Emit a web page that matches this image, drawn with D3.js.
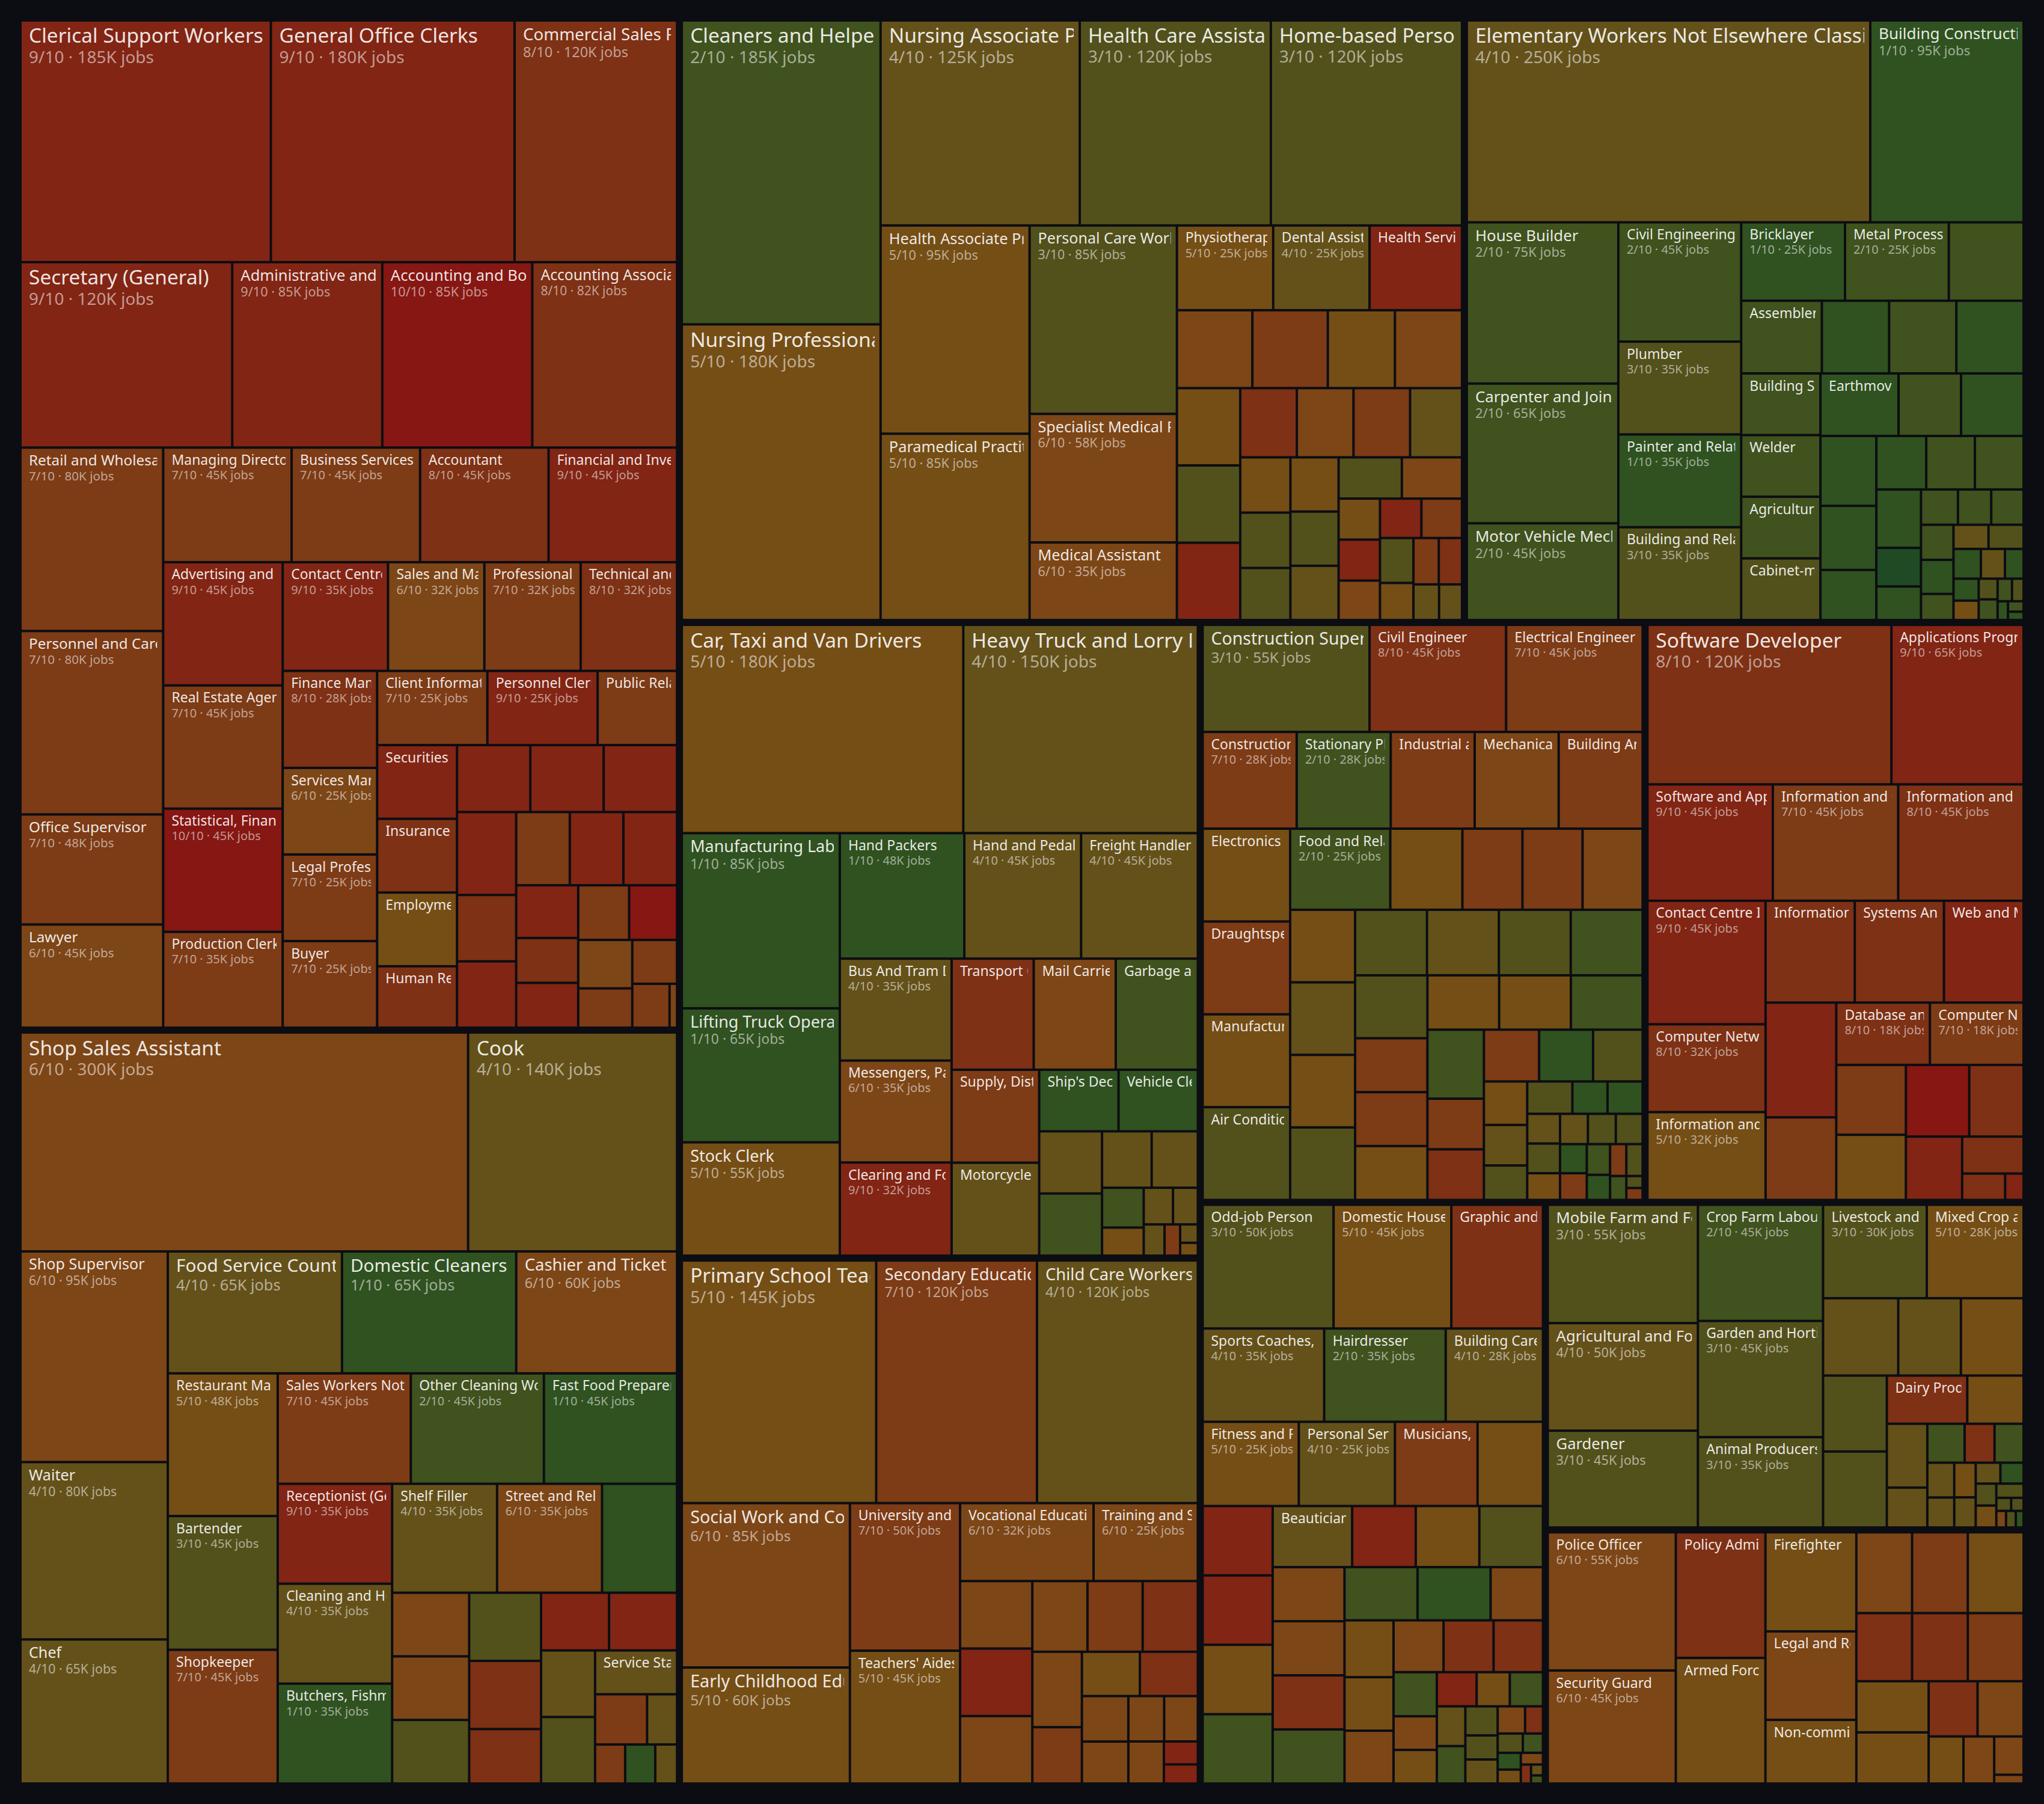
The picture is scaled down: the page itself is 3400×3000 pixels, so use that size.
<!DOCTYPE html>
<html>
  <head>
    <meta charset="utf-8">
    <title>Occupations treemap</title>
    <script type="text/javascript" src="https://cdn.jsdelivr.net/npm/d3@7"></script>
    <style>
      body { margin: 0; background: #0c0d12; }
      text { font-family: "Noto Sans", "Open Sans", sans-serif; }
    </style>
  </head>
  <body>
    <script type="text/javascript">
      var w = 3400
      var h = 3000

      // [occupation, score out of 10, jobs in thousands]
      var office = [
        ["Clerical Support Workers", 9, 185], ["General Office Clerks", 9, 180],
        ["Commercial Sales Representatives", 8, 120], ["Secretary (General)", 9, 120],
        ["Administrative and Executive Secretaries", 9, 85], ["Accounting and Bookkeeping Clerks", 10, 85],
        ["Accounting Associate Professionals", 8, 82], ["Retail and Wholesale Trade Managers", 7, 80],
        ["Personnel and Careers Professionals", 7, 80], ["Office Supervisor", 7, 48],
        ["Lawyer", 6, 45], ["Managing Directors and Chief Executives", 7, 45],
        ["Business Services Agents", 7, 45], ["Accountant", 8, 45],
        ["Financial and Investment Advisers", 9, 45], ["Advertising and Marketing Professionals", 9, 45],
        ["Real Estate Agents and Property Managers", 7, 45], ["Statistical, Finance and Insurance Clerks", 10, 45],
        ["Production Clerks", 7, 35], ["Contact Centre Salespersons", 9, 35],
        ["Sales and Marketing Managers", 6, 32], ["Professional Services Managers", 7, 32],
        ["Technical and Medical Sales Professionals", 8, 32], ["Finance Managers", 8, 28],
        ["Services Managers Not Elsewhere Classified", 6, 25], ["Legal Professionals Not Elsewhere Classified", 7, 25],
        ["Buyer", 7, 25], ["Client Information Workers", 7, 25], ["Personnel Clerks", 9, 25],
        ["Public Relations Professionals", 7, 18], ["Securities and Finance Dealers", 9, 18],
        ["Insurance Representatives", 8, 18], ["Employment Agents and Contractors", 5, 18],
        ["Human Resource Managers", 8, 15], ["Bank Tellers", 9, 15], ["Debt Collectors", 9, 15],
        ["Tax and Excise Officials", 9, 15], ["Bookkeepers", 9, 15], ["Payroll Clerks", 8, 12],
        ["Credit and Loans Officers", 9, 12], ["Survey Interviewers", 7, 12], ["Insurance Underwriters", 9, 12],
        ["Statistical Clerks", 9, 12], ["Company Secretaries", 9, 10], ["Data Entry Clerks", 8, 8.5],
        ["Legal Secretaries", 9, 8.5], ["Valuers and Loss Assessors", 7, 8.5], ["Mail Sorters", 10, 8],
        ["Purchasing Agents", 6, 8], ["Trade Brokers", 7, 6.5], ["Auditors", 7, 6],
        ["Filing Clerks", 7, 5], ["Coding Clerks", 6, 1]
      ]

      var retail = [
        ["Shop Sales Assistant", 6, 300], ["Cook", 4, 140], ["Shop Supervisor", 6, 95],
        ["Waiter", 4, 80], ["Chef", 4, 65], ["Food Service Counter Attendants", 4, 65],
        ["Domestic Cleaners and Helpers", 1, 65], ["Cashier and Ticket Clerks", 6, 60],
        ["Restaurant Managers", 5, 48], ["Bartender", 3, 45], ["Shopkeeper", 7, 45],
        ["Sales Workers Not Elsewhere Classified", 7, 45], ["Other Cleaning Workers", 2, 45],
        ["Fast Food Preparers", 1, 45], ["Receptionist (General)", 9, 35],
        ["Cleaning and Housekeeping Supervisors", 4, 35], ["Butchers, Fishmongers and Related Food Preparers", 1, 35],
        ["Shelf Filler", 4, 35], ["Street and Related Sales Workers", 6, 35], ["Kitchen Helpers", 1, 25],
        ["Hotel Receptionists", 6, 15], ["Food and Beverage Tasters", 6, 15], ["Dishwashers", 3, 15],
        ["Street Food Salespersons", 3, 15], ["Travel Consultants", 8, 15], ["Sales Demonstrators", 8, 12],
        ["Ticket Agents", 9, 12], ["Pawnbrokers", 9, 12], ["Door to Door Salespersons", 4, 11],
        ["Bakers and Pastry Cooks", 3, 11], ["Service Station Attendants", 4, 11], ["Tour Guides", 7, 8],
        ["Hotel Porters", 4, 4.6], ["Pharmacy Sales Assistants", 7, 3.6], ["Market Stall Helpers", 1, 3.6],
        ["Vending Machine Attendants", 4, 2.6]
      ]

      var health = [
        ["Cleaners and Helpers in Offices, Hotels and Other Establishments", 2, 185],
        ["Nursing Professionals", 5, 180], ["Nursing Associate Professionals", 4, 125],
        ["Health Care Assistants", 3, 120], ["Home-based Personal Care Workers", 3, 120],
        ["Health Associate Professionals Not Elsewhere Classified", 5, 95],
        ["Paramedical Practitioners", 5, 85], ["Personal Care Workers in Health Services", 3, 85],
        ["Specialist Medical Practitioners", 6, 58], ["Medical Assistant", 6, 35],
        ["Physiotherapists", 5, 25], ["Dental Assistants and Therapists", 4, 25],
        ["Health Services Managers", 9, 24], ["Optometrists", 6, 18], ["Pharmacists", 7, 18],
        ["Dietitians and Nutritionists", 5, 16], ["Medical Imaging Technicians", 6, 16],
        ["Ambulance Workers", 5, 15], ["Midwifery Professionals", 3, 15], ["Medical Records Technicians", 9, 15],
        ["Medical Secretaries", 8, 12], ["Pharmaceutical Technicians", 6, 12], ["Dental Practitioners", 7, 12],
        ["Traditional Medicine Practitioners", 4, 11], ["Audiologists", 5, 8.5], ["Speech Therapists", 3, 8.5],
        ["Occupational Therapists", 3, 8], ["Veterinarians", 5, 8], ["Podiatrists", 3, 8],
        ["Sterilisation Technicians", 4, 8], ["Patient Care Coordinators", 3, 8], ["Psychologists", 6, 7.6],
        ["Health Inspectors", 5, 5.2], ["Medical Coders", 9, 5.2], ["Chiropractors", 6, 5],
        ["Radiographers", 9, 5], ["Prosthetic Technicians", 7, 4.9], ["Orderlies", 3, 4.6],
        ["Opticians", 5, 3.8], ["Dental Technicians", 7, 3.6], ["Clinical Coders", 8, 3.3],
        ["Anaesthetists", 4, 2.8], ["Genetic Counsellors", 4, 2.5]
      ]

      var construction = [
        ["Elementary Workers Not Elsewhere Classified", 4, 250], ["Building Construction Labourers", 1, 95],
        ["House Builder", 2, 75], ["Carpenter and Joiner", 2, 65],
        ["Motor Vehicle Mechanics and Repairers", 2, 45], ["Civil Engineering Labourers", 2, 45],
        ["Plumber", 3, 35], ["Painter and Related Workers", 1, 35], ["Building and Related Electricians", 3, 35],
        ["Bricklayer", 1, 25], ["Metal Processing Plant Operators", 2, 25], ["Roofers", 2, 18],
        ["Assembler", 2, 18], ["Floor Layers and Tile Setters", 1, 15], ["Concrete Placers", 2, 15],
        ["Scaffolders", 1, 15], ["Building Structure Cleaners", 2, 15], ["Welder", 2, 15],
        ["Agricultural and Industrial Machinery Mechanics", 2, 15], ["Cabinet-makers and Related Workers", 3, 15],
        ["Earthmoving and Related Plant Operators", 1, 15], ["Glaziers", 2, 12], ["Insulation Workers", 1, 12],
        ["Demolition Workers", 1, 12], ["Sheet Metal Workers", 1, 11], ["Structural Metal Preparers", 1, 8.6],
        ["Riggers", 1, 8.2], ["Plasterers", 2, 8], ["Toolmakers", 2, 8], ["Pipe Fitters", 1, 8],
        ["Forestry Labourers", 0, 5.3], ["Mining Labourers", 1, 4.6], ["Steel Fixers", 2, 4],
        ["Boilermakers", 2, 3.6], ["Stonemasons", 2, 3.5], ["Tyre Repairers", 2, 3.5], ["Well Drillers", 1, 3.4],
        ["Crane Operators", 2, 2.6], ["Locksmiths", 4, 2.6], ["Upholsterers", 3, 2.6], ["Fence Builders", 1, 2.5],
        ["Gas Fitters", 4, 2.2], ["Road Workers", 1, 1.7], ["Pavers", 1, 1.7],
        ["Woodworking Machine Setters", 5, 1.5], ["Blasters", 3, 1.2], ["Shot Firers", 2, 1.2],
        ["Chimney Sweeps", 2, 1], ["Thatchers", 3, 0.8], ["Pile Drivers", 1, 0.6], ["Divers", 2, 0.5],
        ["Wreckers", 1, 0.4]
      ]

      var transport = [
        ["Car, Taxi and Van Drivers", 5, 180], ["Heavy Truck and Lorry Drivers", 4, 150],
        ["Manufacturing Labourers", 1, 85], ["Lifting Truck Operators", 1, 65], ["Stock Clerk", 5, 55],
        ["Hand Packers", 1, 48], ["Hand and Pedal Vehicle Drivers", 4, 45], ["Freight Handlers", 4, 45],
        ["Bus And Tram Drivers", 4, 35], ["Messengers, Package Deliverers and Luggage Porters", 6, 35],
        ["Clearing and Forwarding Agents", 9, 32], ["Transport Clerks", 8, 28],
        ["Mail Carriers and Sorting Clerks", 6, 28], ["Garbage and Recycling Collectors", 2, 28],
        ["Supply, Distribution and Related Managers", 7, 25], ["Motorcycle Drivers", 4, 25],
        ["Ship's Deck Crews", 1, 15], ["Vehicle Cleaners", 1, 15], ["Railway Signal Operators", 4, 12],
        ["Mobile Plant Operators", 2, 12], ["Taxi Dispatchers", 4, 8.6], ["Crane Hoist Operators", 4, 8],
        ["Water Transport Labourers", 2, 5.1], ["Tram Conductors", 5, 3.6], ["Parking Attendants", 4, 3.3],
        ["Pilots", 4, 2.8], ["Air Traffic Controllers", 4, 2], ["Shipping Agents", 7, 1.5],
        ["Rail Track Workers", 4, 1], ["Pack Animal Drivers", 5, 0.7]
      ]

      var engineering = [
        ["Construction Supervisors", 3, 55], ["Civil Engineer", 8, 45], ["Electrical Engineer", 7, 45],
        ["Construction Managers", 7, 28], ["Stationary Plant and Machine Operators", 2, 28],
        ["Industrial and Production Engineers", 7, 25], ["Mechanical Engineers", 6, 25],
        ["Building Architects", 7, 25], ["Electronics Engineers", 5, 25], ["Draughtspersons", 7, 25],
        ["Manufacturing Managers", 5, 25], ["Air Conditioning and Refrigeration Mechanics", 3, 25],
        ["Food and Related Products Machine Operators", 2, 25], ["Electrical Mechanics and Fitters", 5, 18],
        ["Quality Inspectors", 7, 15], ["Chemical Engineers", 7, 15], ["Mining Engineers", 6, 15],
        ["Machine Tool Setters", 5, 14.5], ["Textile Machine Operators", 4, 14.5],
        ["Printing Machine Operators", 5, 14.5], ["Chemical Plant Operators", 3, 14.5],
        ["Plastic Products Operators", 3, 14.5], ["Packing Machine Operators", 4, 14.5],
        ["Sewing Machine Operators", 3, 14.5], ["Paper Products Operators", 2, 14.5],
        ["Power Plant Operators", 3, 14], ["Materials Engineers", 7, 12], ["Surveyors", 7, 12],
        ["Telecommunications Engineers", 5, 12], ["Metal Finishing Operators", 5, 12],
        ["Wood Processing Operators", 5, 12], ["Glass Production Operators", 2, 12],
        ["Rubber Products Operators", 2, 12], ["Environmental Engineers", 7, 8.8],
        ["Aerospace Engineers", 8, 8.8], ["Product Designers", 7, 8.8], ["Mineral Processing Operators", 1, 8.6],
        ["Cement Plant Operators", 3, 7.9], ["Metallurgists", 5, 5.8], ["Electronics Mechanics", 4, 5.4],
        ["Boiler Operators", 3, 4.6], ["Incinerator Operators", 3, 4.5], ["Photographic Products Operators", 1, 3.5],
        ["Steam Engine Operators", 1, 3.5], ["Shoemaking Machine Operators", 4, 3], ["Laboratory Technicians", 3, 3],
        ["Robotics Engineers", 5, 2.7], ["Boat Builders", 4, 2.6], ["Precision Instrument Makers", 3, 2.6],
        ["Jewellery Makers", 3, 2.5], ["Tobacco Products Operators", 1, 2.4], ["Biomedical Engineers", 7, 2.2],
        ["Pottery Workers", 2, 2.2], ["Fibre Preparers", 1, 1.8], ["Naval Architects", 7, 1.6],
        ["Locomotive Engineers", 3, 1.6], ["Weaving Operators", 2, 1.2], ["Pulp Operators", 3, 0.6],
        ["Cartographers", 7, 0.6]
      ]

      var it = [
        ["Software Developer", 8, 120], ["Applications Programmers", 9, 65],
        ["Software and Applications Developers and Analysts", 9, 45],
        ["Information and Communications Technology Operations Technicians", 7, 45],
        ["Information and Communications Technology Service Managers", 8, 45],
        ["Contact Centre Information Clerks", 9, 45], ["Computer Network Professionals", 8, 32],
        ["Information and Communications Technology Installers", 5, 32],
        ["Information Technology Trainers", 8, 28], ["Systems Analysts", 8, 28],
        ["Web and Multimedia Developers", 9, 25], ["ICT Sales Professionals", 9, 25],
        ["Telecommunications Technicians", 7, 18], ["Database and Network Professionals", 8, 18],
        ["Computer Network and Systems Technicians", 7, 18], ["Web Technicians", 7, 15],
        ["User Support Technicians", 5, 14], ["Database Designers", 10, 14], ["Security Specialists", 8, 12],
        ["Data Analysts", 9, 11], ["Broadcasting Technicians", 8, 7], ["Help Desk Operators", 8, 3.5],
        ["Network Administrators", 9, 1.5]
      ]

      var education = [
        ["Primary School Teachers", 5, 145], ["Secondary Education Teachers", 7, 120],
        ["Child Care Workers", 4, 120], ["Social Work and Counselling Professionals", 6, 85],
        ["Early Childhood Educators", 5, 60], ["University and Higher Education Teachers", 7, 50],
        ["Teachers' Aides", 5, 45], ["Vocational Education Teachers", 6, 32],
        ["Training and Staff Development Professionals", 6, 25], ["Special Needs Teachers", 6, 15],
        ["Education Managers", 9, 15], ["Language Teachers", 6, 15], ["Music Teachers", 6, 12],
        ["Education Advisers", 7, 12], ["Librarians", 8, 12], ["Art Teachers", 6, 11.5],
        ["Community Development Workers", 7, 8.6], ["Youth Workers", 5, 7.9], ["School Inspectors", 8, 7.9],
        ["Archivists", 6, 6.5], ["Driving Instructors", 6, 6], ["Tutors", 6, 5], ["Museum Curators", 6, 4.7],
        ["IT Teachers", 6, 4.6], ["Education Methods Specialists", 9, 2.4], ["Other Teaching Professionals", 9, 2]
      ]

      var personal = [
        ["Odd-job Person", 3, 50], ["Domestic Housekeepers", 5, 45],
        ["Graphic and Multimedia Designers", 8, 35], ["Sports Coaches, Instructors and Officials", 4, 35],
        ["Hairdresser", 2, 35], ["Building Caretakers", 4, 28], ["Fitness and Recreation Instructors", 5, 25],
        ["Personal Services Workers Not Elsewhere Classified", 4, 25], ["Musicians, Singers and Composers", 7, 21.5],
        ["Undertakers and Embalmers", 5, 17], ["Photographers", 9, 15], ["Interior Designers", 9, 15],
        ["Child Care Aides", 5, 15], ["Pet Groomers", 2, 15], ["Beauticians and Related Workers", 4, 15],
        ["Actors", 9, 12], ["Dancers", 5, 12], ["Companions and Valets", 3, 12], ["Writers", 6, 12],
        ["Translators", 6, 12], ["Artists", 8, 12], ["Laundry Workers", 2, 12], ["Cleaners of Vehicles", 2, 12],
        ["Launderers", 1, 12], ["Journalists", 6, 8.6], ["Astrologers", 5, 8.6], ["Fortune-tellers", 5, 8.1],
        ["Crafts Workers", 6, 8], ["Tailors", 6, 8], ["Announcers", 8, 8], ["Film Directors", 8, 7.9],
        ["Shoe Cleaners", 2, 5.9], ["Window Cleaners", 6, 4.5], ["Sign Writers", 5, 4.5], ["Editors", 9, 4.2],
        ["Event Planners", 5, 3.5], ["Lifeguards", 2, 3.5], ["Tattoo Artists", 4, 3.5], ["Florists", 2, 3.3],
        ["Masseurs", 3, 2.9], ["Bodyguards", 3, 2.4], ["Stylists", 4, 2.4], ["Wedding Planners", 6, 2.3],
        ["Clowns and Magicians", 8, 1.5], ["Chauffeurs", 3, 1.5], ["Nannies", 2, 1.2], ["Dog Walkers", 1, 1.2],
        ["Watch Repairers", 5, 1], ["Piano Tuners", 6, 0.8], ["Street Performers", 8, 0.6],
        ["Costume Makers", 4, 0.4], ["Gamekeepers", 2, 0.3]
      ]

      var agriculture = [
        ["Mobile Farm and Forestry Plant Operators", 3, 55], ["Agricultural and Forestry Production Managers", 4, 50],
        ["Gardener", 3, 45], ["Crop Farm Labourers", 2, 45], ["Garden and Horticultural Labourers", 3, 45],
        ["Animal Producers", 3, 35], ["Livestock and Dairy Producers", 3, 30],
        ["Mixed Crop and Animal Producers", 5, 28], ["Field Crop Growers", 4, 18],
        ["Tree and Shrub Crop Growers", 4, 15], ["Vegetable Growers", 5, 15], ["Poultry Producers", 3, 15],
        ["Forestry Workers", 3, 15], ["Dairy Products Makers", 8, 12], ["Apiarists", 5, 8.4],
        ["Fishery Workers", 4, 8], ["Aquaculture Workers", 4, 5], ["Orchard Labourers", 2, 4.5],
        ["Fruit Pickers", 8, 3.6], ["Livestock Farm Labourers", 2, 3.5], ["Hunters and Trappers", 4, 2.9],
        ["Grain Mill Operators", 4, 2.5], ["Shearers", 5, 2.3], ["Seed Graders", 4, 2],
        ["Irrigation Workers", 4, 1.6], ["Nursery Workers", 1, 1.5], ["Fish Farmers", 3, 1.4],
        ["Mushroom Growers", 5, 1.4], ["Hay Balers", 3, 1.2], ["Egg Graders", 3, 0.6], ["Wine Makers", 3, 0.5],
        ["Tea Pluckers", 6, 0.5], ["Loggers", 3, 0.5], ["Charcoal Burners", 1, 0.4]
      ]

      var protective = [
        ["Police Officer", 6, 55], ["Security Guard", 6, 45], ["Policy Administration Professionals", 8, 35],
        ["Armed Forces Occupations, Other Ranks", 5, 35], ["Firefighter", 5, 28],
        ["Legal and Related Associate Professionals", 6, 25], ["Non-commissioned Armed Forces Officers", 5, 18],
        ["Prison Guards", 6, 14], ["Immigration Officers", 7, 14], ["Customs Inspectors", 5, 14],
        ["Police Inspectors", 8, 11.8], ["Social Benefits Officials", 8, 11.8], ["Licensing Officials", 7, 11.8],
        ["Commissioned Armed Forces Officers", 5, 11.5], ["Parking Enforcement Officers", 5, 11.5],
        ["Regulatory Government Professionals", 8, 8.4], ["Court Clerks", 6, 7.9], ["Lifesaving Officers", 5, 5.1],
        ["Detectives", 6, 4.5], ["Traffic Wardens", 6, 3.5], ["Coast Guards", 6, 0.8]
      ]

      var groups = [
        ["Administration and Business", office], ["Sales and Hospitality", retail],
        ["Health and Care", health], ["Construction and Trades", construction],
        ["Transport and Logistics", transport], ["Education and Social", education],
        ["Engineering and Manufacturing", engineering], ["Information Technology", it],
        ["Personal Services", personal], ["Agriculture", agriculture], ["Protective Services", protective]
      ]

      // fill per score, 0 to 10
      var scoreColors = ["#1f4a24", "#2f5220", "#40521e", "#52511c", "#64511a", "#754e16",
                         "#7d4617", "#7d3b16", "#7e3115", "#822514", "#861713"]

      var data = {name: "All", children: groups.map(function(g) {
        return {name: g[0], children: g[1].map(function(r) {
          return {name: r[0], score: r[1], value: r[2]};
        })};
      })};

      var root = d3.hierarchy(data)
                   .sum(function(d) { return d.value; })
                   .sort(function(a, b) { return b.value - a.value; });

      // plain squarify (ratio 1)
      d3.treemap()
        .tile(d3.treemapSquarify.ratio(1))
        .size([3336, 2936])
        .paddingInner(4)
        .paddingOuter(function(d) { return d.depth === 1 ? 4 : 0; })(root);

      var svg = d3.select("body").append("svg")
                  .attr("width", w)
                  .attr("height", h);

      svg.append("rect").attr("width", w).attr("height", h).attr("fill", "#0c0d12");

      var chart = svg.append("g").attr("transform", "translate(32,32)");

      var cells = chart.selectAll("g.cell")
                       .data(root.leaves())
                       .enter()
                       .append("g")
                       .attr("class", "cell")
                       .attr("transform", function(d) {
                         return "translate(" + d.x0 + "," + d.y0 + ")";
                       });

      cells.append("rect")
           .attr("width", function(d) { return d.x1 - d.x0; })
           .attr("height", function(d) { return d.y1 - d.y0; })
           .attr("fill", function(d) { return scoreColors[d.data.score]; });

      cells.append("clipPath")
           .attr("id", function(d, i) { return "clip" + i; })
           .append("rect")
           .attr("width", function(d) { return Math.max(0, d.x1 - d.x0 - 8); })
           .attr("height", function(d) { return d.y1 - d.y0; });

      // labels only where the cell is big enough
      var labelled = cells.filter(function(d) {
        return d.x1 - d.x0 >= 125 && d.y1 - d.y0 >= 60;
      });

      labelled.each(function(d) {
        var cw = d.x1 - d.x0;
        var ch = d.y1 - d.y0;
        var fs = Math.max(23, Math.min(33.5, cw / 9.6));
        var ss = Math.max(20, Math.min(28, fs * 0.85));
        var ny = 7 + fs * 0.85;
        var id = d3.select(this).select("clipPath").attr("id");
        var lab = d3.select(this).append("g").attr("clip-path", "url(#" + id + ")");
        lab.append("text")
           .attr("x", 12)
           .attr("y", ny)
           .attr("font-size", fs)
           .attr("fill", "#ffffff")
           .attr("fill-opacity", 0.9)
           .text(d.data.name);
        if (cw >= 150 && ch >= 90) {
          lab.append("text")
             .attr("x", 12)
             .attr("y", ny + ss * 1.21)
             .attr("font-size", ss)
             .attr("fill", "#ffffff")
             .attr("fill-opacity", 0.55)
             .text(d.data.score + "/10 \u00b7 " + d.data.value + "K jobs");
        }
      });
    </script>
  </body>
</html>
